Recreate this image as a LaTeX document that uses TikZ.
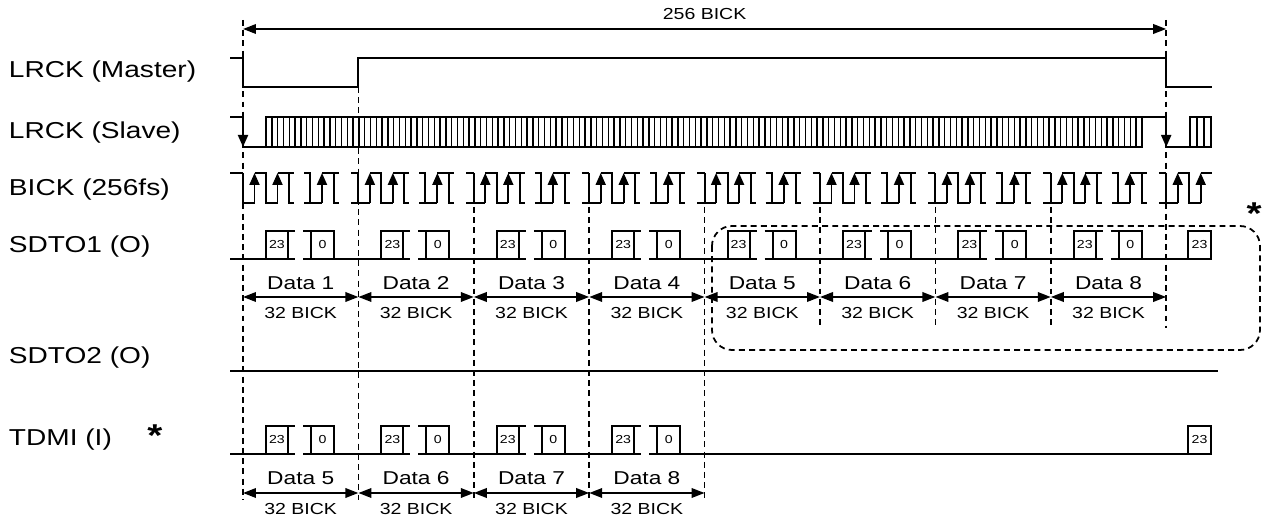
\documentclass[tikz,border=0pt]{standalone}
\usepackage{fontspec}
\setmainfont{Liberation Sans}[FakeStretch=1.22]
\usetikzlibrary{arrows.meta}
\tikzset{
  every picture/.style={line width=1.1pt},
  wave/.style={line width=1.1pt},
  hatch/.style={line width=0.8pt},
  rise/.style={-{Triangle[length=2.4mm, width=2mm]}},
  guide/.style={dash pattern=on 3.4pt off 2.4pt, line width=1pt},
  span/.style={{Triangle[length=2.6mm, width=1.9mm]}-{Triangle[length=2.6mm, width=1.9mm]}, line width=1.1pt},
  signame/.style={anchor=west, inner sep=0pt, font=\fontsize{13.1}{15}\selectfont},
  datalbl/.style={inner sep=0pt, font=\fontsize{10.6}{12}\selectfont},
  bicklbl/.style={inner sep=0pt, font=\fontsize{9.1}{10}\selectfont},
  bitlbl/.style={inner sep=0pt, font=\fontsize{6.6}{7}\selectfont},
  star/.style={inner sep=0pt, font=\fontsize{18}{18}\selectfont\bfseries},
}

\begin{document}
\begin{tikzpicture}[x=0.02cm, y=-0.02cm]
  \useasboundingbox (0,0) rectangle (1262,516);
  % signal names
  \node[signame] (mst) at (8,72) {LRCK (Master)};
  \node[signame] (slv) at (8,133) {LRCK (Slave)};
  \node[signame] (bck) at (8,190) {BICK (256fs)};
  \node[signame] (so1) at (8,247) {SDTO1 (O)};
  \node[signame] (so2) at (8,358) {SDTO2 (O)};
  \node[signame] (tdm) at (8,440) {TDMI (I)};
  \node[star] (tst) at (155,436) {*};

  % frame length
  \coordinate (f0) at (243,29);
  \coordinate (f1) at (1166.2,29);
  \draw[span] (f0) -- (f1);
  \node[bicklbl] (frm) at (704.6,14) {256 BICK};

  % guide lines
  \draw[guide] (243,20) -- (243,500);
  \draw[guide] (358.4,87) -- (358.4,500);
  \foreach \x in {473.8, 589.2, 704.6} \draw[guide] (\x,207) -- (\x,500);
  \foreach \x in {820, 935.4, 1050.8} \draw[guide] (\x,207) -- (\x,328);
  \draw[guide] (1166.2,20) -- (1166.2,328);

  % LRCK master
  \draw[wave] (230,58) -- (243,58) -- (243,87) -- (358.4,87) -- (358.4,58) -- (1166.2,58) -- (1166.2,87) -- (1212,87);

  % LRCK slave
  \draw[wave] (230,117) -- (243,117);
  \draw[wave, rise] (243,117) -- (243,147);
  \draw[wave] (243,147) -- (266,147);
  \draw[wave] (266,117) rectangle (1142,147);
  \foreach \i in {1,...,151} \draw[hatch] ({266+5.801*\i},117) -- ({266+5.801*\i},147);
  \draw[wave] (1142,117) -- (1166.2,117);
  \draw[wave, rise] (1166.2,117) -- (1166.2,147);
  \draw[wave] (1166.2,147) -- (1190,147);
  \draw[wave] (1190,117) rectangle (1211,147);
  \foreach \x in {1197, 1204} \draw[hatch] (\x,117) -- (\x,147);

  % BICK
  \draw[wave] (230,173) -- (243,173);
  \foreach \k in {0,...,7}{
    \pgfmathsetmacro\s{243+115.4*\k}
    \draw[wave] (\s,173) -- (\s,203) -- ({\s+11.5},203);
    \draw[wave, rise] ({\s+11.5},203) -- ({\s+11.5},173);
    \draw[wave] ({\s+11.5},173) -- ({\s+23},173) -- ({\s+23},203) -- ({\s+34.5},203);
    \draw[wave, rise] ({\s+34.5},203) -- ({\s+34.5},173);
    \draw[wave] ({\s+34.5},173) -- ({\s+46},173) -- ({\s+46},203) -- ({\s+51},203) ({\s+46},173) -- ({\s+51},173);
    \draw[wave] ({\s+61},173) -- ({\s+67},173) -- ({\s+67},203) -- ({\s+79},203) ({\s+61},203) -- ({\s+67},203);
    \draw[wave, rise] ({\s+79},203) -- ({\s+79},173);
    \draw[wave] ({\s+79},173) -- ({\s+91},173) -- ({\s+91},203) -- ({\s+96},203) ({\s+91},173) -- ({\s+96},173);
    \draw[wave] ({\s+108},173) -- ({\s+115.4},173) ({\s+108},203) -- ({\s+115.4},203);
  }
  \draw[wave] (1166.2,173) -- (1166.2,203) -- (1177.7,203);
  \draw[wave, rise] (1177.7,203) -- (1177.7,173);
  \draw[wave] (1177.7,173) -- (1189.2,173) -- (1189.2,203) -- (1200.7,203);
  \draw[wave, rise] (1200.7,203) -- (1200.7,173);
  \draw[wave] (1200.7,173) -- (1212,173);

  % SDTO1
  \draw[wave] (230,259) -- (243,259);
  \foreach \k in {0,...,7}{
    \pgfmathsetmacro\s{243+115.4*\k}
    \draw[wave] (\s,259) -- ({\s+52},259) ({\s+60},259) -- ({\s+115.4},259);
    \draw[wave] ({\s+23},231) rectangle ({\s+45},259) ({\s+45},231) -- ({\s+52},231)
      ({\s+60},231) -- ({\s+68},231) rectangle ({\s+91},259);
    \node[bitlbl] (o23\k) at ({\s+34},245) {23};
    \node[bitlbl] (o0\k) at ({\s+79.5},245) {0};
  }
  \draw[wave] (1166.2,259) -- (1188,259);
  \draw[wave] (1188,231) rectangle (1211,259);
  \node[bitlbl] (o238) at (1199.5,245) {23};

  \foreach \k in {0,...,8} \coordinate (p\k) at ({243+115.4*\k},297);
  \foreach \k in {0,...,7}{
    \pgfmathtruncatemacro\n{\k+1}
    \pgfmathsetmacro\c{243+115.4*\k+57.7}
    \draw[span] (p\k) -- (p\n);
    \node[datalbl] (d\n) at (\c,283) {Data \n};
    \node[bicklbl] (b\n) at (\c,313) {32 BICK};
  }

  % TDM group
  \draw[guide, rounded corners=0.4cm] (712,226) rectangle (1260,350);
  \node[star] (ast) at (1254,214) {*};

  % SDTO2
  \draw[wave] (230,371) -- (1218,371);

  % TDMI
  \draw[wave] (230,454) -- (243,454);
  \foreach \k in {0,...,3}{
    \pgfmathsetmacro\s{243+115.4*\k}
    \draw[wave] (\s,454) -- ({\s+52},454) ({\s+60},454) -- ({\s+115.4},454);
    \draw[wave] ({\s+23},426) rectangle ({\s+45},454) ({\s+45},426) -- ({\s+52},426)
      ({\s+60},426) -- ({\s+68},426) rectangle ({\s+91},454);
    \node[bitlbl] (i23\k) at ({\s+34},440) {23};
    \node[bitlbl] (i0\k) at ({\s+79.5},440) {0};
  }
  \draw[wave] (704.6,454) -- (1188,454);
  \draw[wave] (1188,426) rectangle (1211,454);
  \node[bitlbl] (i238) at (1199.5,440) {23};

  \foreach \k in {0,...,4} \coordinate (q\k) at ({243+115.4*\k},493);
  \foreach \k in {0,...,3}{
    \pgfmathtruncatemacro\n{\k+1}
    \pgfmathtruncatemacro\m{\k+5}
    \pgfmathsetmacro\c{243+115.4*\k+57.7}
    \draw[span] (q\k) -- (q\n);
    \node[datalbl] (e\m) at (\c,478) {Data \m};
    \node[bicklbl] (g\m) at (\c,509) {32 BICK};
  }
\end{tikzpicture}
\end{document}
